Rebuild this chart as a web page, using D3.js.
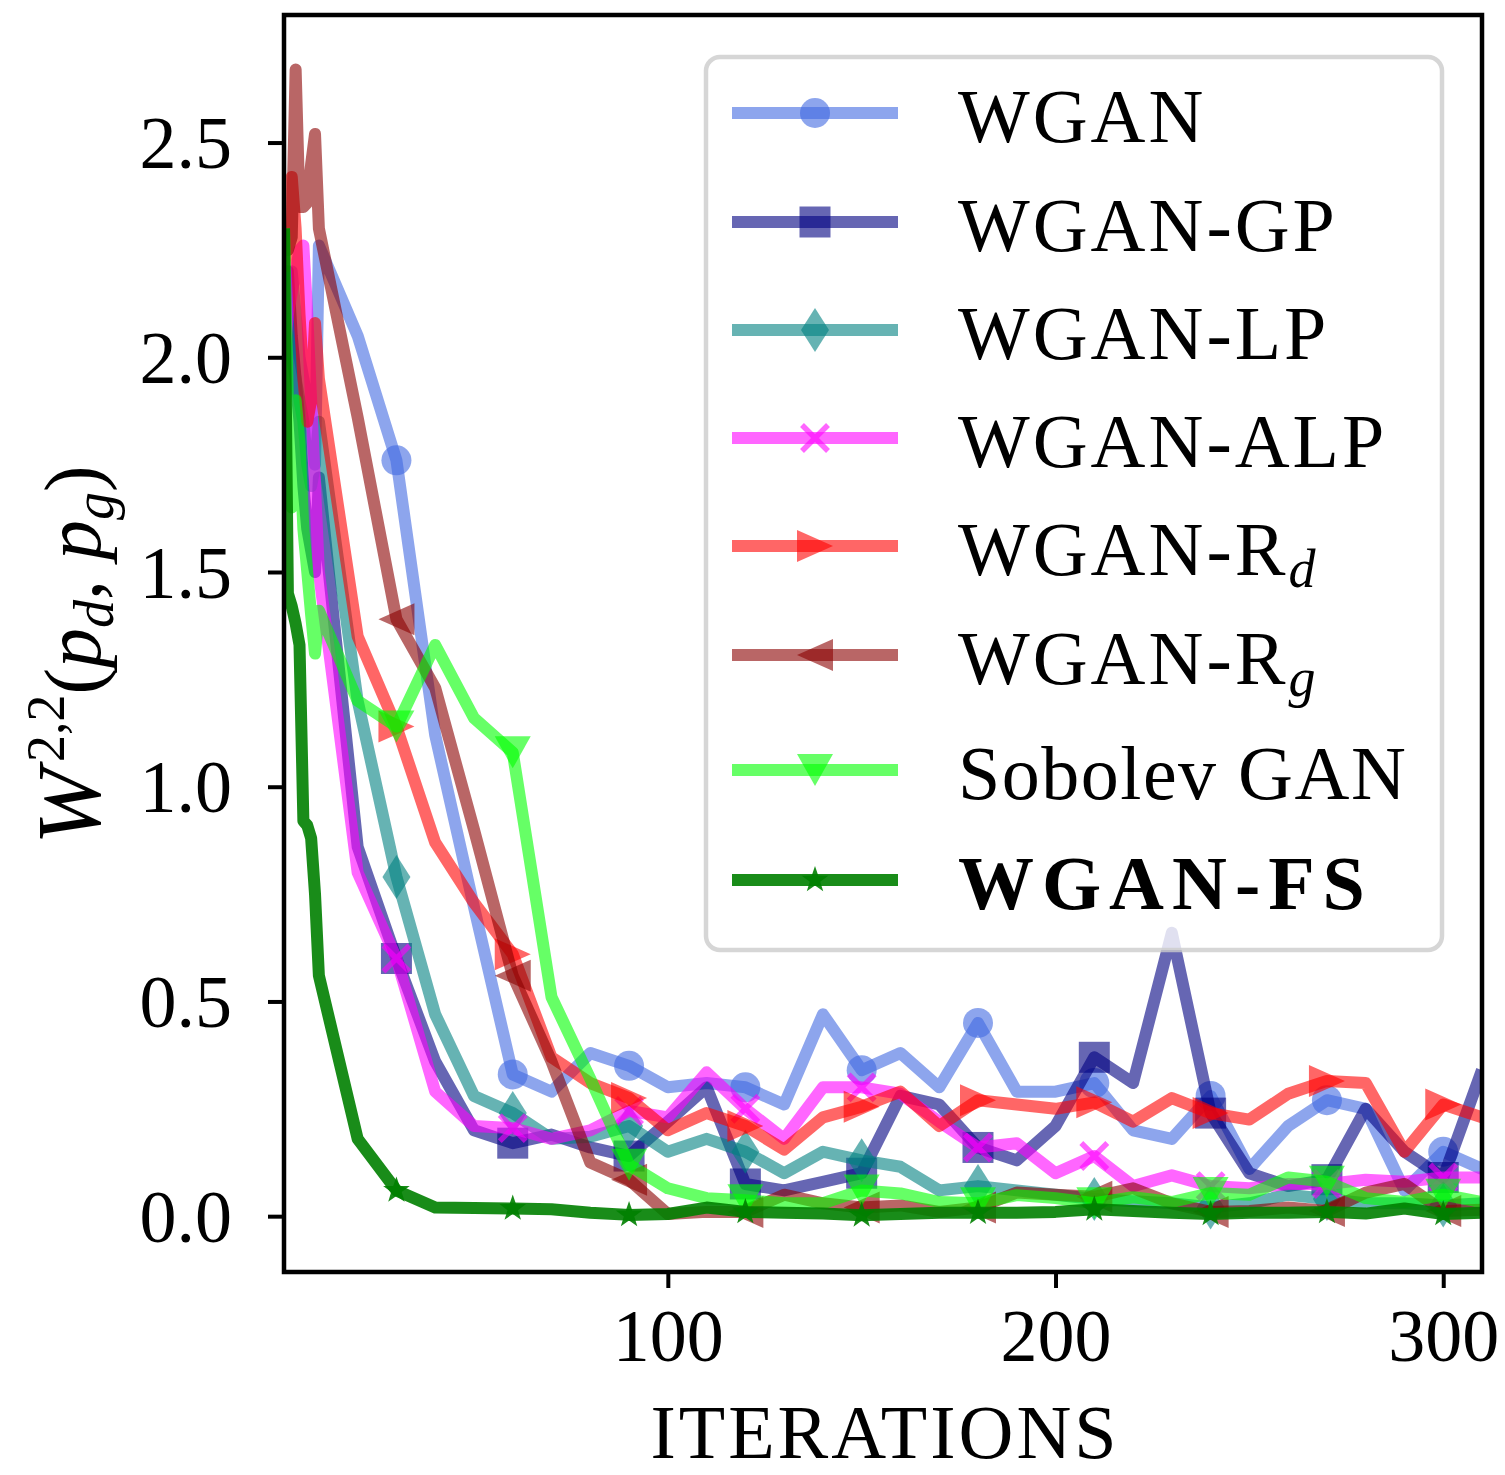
<!DOCTYPE html>
<html>
<head>
<meta charset="utf-8">
<script src="https://cdn.jsdelivr.net/npm/d3@7"></script>
<style>
  body { margin: 0; background: #fff; }
  svg text { font-family: "Liberation Serif", "DejaVu Serif", serif; }
</style>
</head>
<body>
<svg id="chart" width="1505" height="1475" viewBox="0 0 1505 1475"></svg>
<script>
// iterations at which every run was evaluated
const iterations = [1, 2, 3, 4, 5, 6, 7, 8, 9, 10,
  20, 30, 40, 50, 60, 70, 80, 90, 100, 110, 120, 130, 140, 150, 160, 170, 180, 190, 200,
  210, 220, 230, 240, 250, 260, 270, 280, 290, 300, 310];
// iterations that carry a marker
const markerIters = [30, 60, 90, 120, 150, 180, 210, 240, 270, 300];

const wgan = [2.10, 2.15, 2.20, 2.10, 2.00, 1.95, 1.90, 1.85, 1.75, 2.26,
  2.05, 1.76, 1.12, 0.72, 0.33, 0.29, 0.38, 0.35, 0.30, 0.31, 0.30, 0.26, 0.47, 0.34, 0.38, 0.30, 0.45, 0.29, 0.29,
  0.31, 0.20, 0.18, 0.28, 0.11, 0.21, 0.27, 0.25, 0.06, 0.15, 0.11];
const wganGP = [2.15, 2.20, 2.05, 1.95, 1.85, 1.70, 1.60, 1.55, 1.50, 1.72,
  0.86, 0.60, 0.36, 0.20, 0.17, 0.19, 0.16, 0.14, 0.22, 0.30, 0.075, 0.06, 0.08, 0.10, 0.28, 0.26, 0.16, 0.13, 0.21,
  0.37, 0.31, 0.66, 0.24, 0.10, 0.07, 0.085, 0.25, 0.15, 0.09, 0.34];
const wganLP = [2.10, 2.05, 2.00, 1.95, 1.90, 1.85, 1.75, 1.70, 1.75, 1.85,
  1.20, 0.79, 0.47, 0.28, 0.24, 0.18, 0.185, 0.21, 0.15, 0.18, 0.15, 0.10, 0.15, 0.13, 0.115, 0.06, 0.07, 0.06, 0.05,
  0.04, 0.035, 0.03, 0.02, 0.03, 0.05, 0.04, 0.03, 0.03, 0.025, 0.03];
const wganALP = [2.00, 2.10, 2.15, 2.20, 2.25, 2.26, 2.10, 1.90, 1.70, 1.50,
  0.80, 0.60, 0.29, 0.21, 0.205, 0.18, 0.20, 0.245, 0.23, 0.335, 0.25, 0.18, 0.30, 0.30, 0.285, 0.22, 0.16, 0.17, 0.10,
  0.14, 0.07, 0.095, 0.07, 0.065, 0.075, 0.075, 0.085, 0.08, 0.09, 0.09];
const wganRd = [2.20, 2.30, 2.42, 2.30, 2.10, 1.95, 1.85, 1.90, 2.08, 1.95,
  1.35, 1.14, 0.87, 0.73, 0.61, 0.37, 0.31, 0.275, 0.20, 0.24, 0.21, 0.155, 0.23, 0.255, 0.29, 0.21, 0.27, 0.26, 0.25,
  0.265, 0.22, 0.275, 0.24, 0.225, 0.285, 0.315, 0.31, 0.15, 0.26, 0.23];
const wganRg = [2.25, 2.25, 2.28, 2.67, 2.35, 2.35, 2.36, 2.45, 2.52, 2.30,
  1.86, 1.39, 1.23, 0.90, 0.56, 0.36, 0.125, 0.085, 0.005, 0.01, 0.01, 0.05, 0.03, 0.02, 0.025, 0.01, 0.02, 0.055, 0.05,
  0.045, 0.065, 0.03, 0.01, 0.012, 0.02, 0.012, 0.055, 0.075, 0.012, 0.015];
const sobolev = [2.30, 1.90, 1.65, 1.90, 1.80, 1.60, 1.50, 1.40, 1.31, 1.41,
  1.20, 1.14, 1.33, 1.16, 1.08, 0.51, 0.32, 0.12, 0.065, 0.042, 0.037, 0.03, 0.03, 0.06, 0.053, 0.033, 0.03, 0.049, 0.042,
  0.03, 0.044, 0.033, 0.054, 0.05, 0.09, 0.08, 0.042, 0.033, 0.05, 0.033];
const wganFS = [2.30, 1.45, 1.42, 1.38, 1.33, 0.92, 0.91, 0.88, 0.75, 0.56,
  0.18, 0.06, 0.02, 0.019, 0.018, 0.016, 0.008, 0.003, 0.005, 0.02, 0.01, 0.008, 0.006, 0.002, 0.005, 0.008, 0.008, 0.008, 0.01,
  0.016, 0.012, 0.008, 0.005, 0.008, 0.008, 0.01, 0.006, 0.018, 0.005, 0.008];

const seriesNames = ["WGAN", "WGAN-GP", "WGAN-LP", "WGAN-ALP", "WGAN-Rd", "WGAN-Rg", "Sobolev GAN", "WGAN-FS"];
const seriesValues = [wgan, wganGP, wganLP, wganALP, wganRd, wganRg, sobolev, wganFS];
const seriesColors = ["#4169e1", "#000080", "#008080", "#ff00ff", "#ff0000", "#8b0000", "#00ff00", "#008000"];
const seriesAlpha = [0.6, 0.6, 0.6, 0.6, 0.6, 0.6, 0.6, 0.9];
const seriesMarkers = ["o", "s", "d", "x", ">", "<", "v", "*"];

const yTicks = [0, 0.5, 1.0, 1.5, 2.0, 2.5];
const xTicks = [100, 200, 300];

const svg = d3.select("#chart");
const plotLeft = 284, plotRight = 1482, plotTop = 15, plotBottom = 1272;

const x = d3.scaleLinear().domain([1, 310]).range([plotLeft, plotRight]);
const y = d3.scaleLinear().domain([-0.13, 2.797]).range([plotBottom, plotTop]);

svg.append("defs").append("clipPath").attr("id", "plotClip")
  .append("rect").attr("x", plotLeft).attr("y", plotTop)
  .attr("width", plotRight - plotLeft).attr("height", plotBottom - plotTop);

// marker shapes, centred on 0,0
function markerPath(type) {
  switch (type) {
    case "o": return "M15,0A15,15 0 1,1 -15,0A15,15 0 1,1 15,0Z";
    case "s": return "M-15.5,-15.5H15.5V15.5H-15.5Z";
    case "d": return "M0,-22L14,0L0,22L-14,0Z";
    case "x": return "M-13,-13L13,13M-13,13L13,-13";
    case ">": return "M18,0L-18,-16L-18,16Z";
    case "<": return "M-18,0L18,-16L18,16Z";
    case "v": return "M0,16L-18,-16L18,-16Z";
    case "*": {
      let p = [];
      for (let k = 0; k < 10; k++) {
        const r = k % 2 === 0 ? 14 : 5.5;
        const a = -Math.PI / 2 + k * Math.PI / 5;
        p.push([r * Math.cos(a), r * Math.sin(a)]);
      }
      return "M" + p.map(d => d[0].toFixed(2) + "," + d[1].toFixed(2)).join("L") + "Z";
    }
  }
}

function drawMarker(g, type, cx, cy, color, alpha) {
  const m = g.append("path")
    .attr("d", markerPath(type))
    .attr("transform", `translate(${cx},${cy})`);
  if (type === "x") {
    m.attr("fill", "none").attr("stroke", color).attr("stroke-width", 5.5).attr("stroke-opacity", alpha);
  } else {
    m.attr("fill", color).attr("fill-opacity", alpha);
  }
}

const plot = svg.append("g").attr("clip-path", "url(#plotClip)");
const line = d3.line().x(d => x(d[0])).y(d => y(d[1]));

seriesValues.forEach((vals, i) => {
  const pts = iterations.map((it, j) => [it, vals[j]]);
  const g = plot.append("g");
  g.append("path")
    .attr("d", line(pts))
    .attr("fill", "none")
    .attr("stroke", seriesColors[i])
    .attr("stroke-opacity", seriesAlpha[i])
    .attr("stroke-width", 12)
    .attr("stroke-linejoin", "round");
  pts.filter(p => markerIters.includes(p[0])).forEach(p => {
    drawMarker(g, seriesMarkers[i], x(p[0]), y(p[1]), seriesColors[i], seriesAlpha[i]);
  });
});

// axes
const yAxis = svg.append("g").attr("transform", `translate(${plotLeft},0)`)
  .call(d3.axisLeft(y).tickValues(yTicks).tickFormat(d3.format(".1f")).tickSize(16).tickPadding(36));
const xAxis = svg.append("g").attr("transform", `translate(0,${plotBottom})`)
  .call(d3.axisBottom(x).tickValues(xTicks).tickFormat(d3.format("d")).tickSize(16).tickPadding(20));
[yAxis, xAxis].forEach(a => {
  a.select(".domain").remove();
  a.selectAll(".tick line").attr("stroke", "#000").attr("stroke-width", 4);
  a.selectAll(".tick text").attr("fill", "#000").style("font-size", "74px");
});
yAxis.selectAll(".tick text").attr("dy", "0.34em");
xAxis.selectAll(".tick text").attr("dy", "0.72em");

// frame
svg.append("rect")
  .attr("x", plotLeft).attr("y", plotTop)
  .attr("width", plotRight - plotLeft).attr("height", plotBottom - plotTop)
  .attr("fill", "none").attr("stroke", "#000").attr("stroke-width", 4.5);

// axis titles
svg.append("text")
  .attr("x", (plotLeft + plotRight) / 2 + 2).attr("y", 1458)
  .attr("text-anchor", "middle")
  .style("font-size", "76px")
  .style("letter-spacing", "3px")
  .text("ITERATIONS");

const yl = svg.append("text")
  .attr("transform", "translate(100,655) rotate(-90)")
  .attr("text-anchor", "middle")
  .style("font-size", "80px");
yl.append("tspan").style("font-style", "italic").style("font-size", "92px").text("W");
yl.append("tspan").attr("dx", 6).attr("dy", -36).style("font-size", "54px").text("2,2");
yl.append("tspan").attr("dy", 36).text("(");
yl.append("tspan").style("font-style", "italic").text("p");
yl.append("tspan").attr("dy", 13).style("font-style", "italic").style("font-size", "56px").text("d");
yl.append("tspan").attr("dy", -13).text(", ");
yl.append("tspan").style("font-style", "italic").text("p");
yl.append("tspan").attr("dy", 13).style("font-style", "italic").style("font-size", "56px").text("g");
yl.append("tspan").attr("dy", -13).text(")");

// legend
const lg = svg.append("g");
lg.append("rect")
  .attr("x", 706).attr("y", 57).attr("width", 736).attr("height", 893)
  .attr("rx", 14).attr("ry", 14)
  .attr("fill", "#fff").attr("fill-opacity", 0.8)
  .attr("stroke", "#cccccc").attr("stroke-opacity", 0.8).attr("stroke-width", 4.5);

const rowY = [113, 222, 330, 438, 546, 655, 770, 880];
seriesNames.forEach((name, i) => {
  const cy = rowY[i];
  lg.append("line")
    .attr("x1", 732).attr("x2", 898).attr("y1", cy).attr("y2", cy)
    .attr("stroke", seriesColors[i]).attr("stroke-opacity", seriesAlpha[i])
    .attr("stroke-width", 12);
  drawMarker(lg, seriesMarkers[i], 815, cy, seriesColors[i], seriesAlpha[i]);
  const t = lg.append("text")
    .attr("x", 958).attr("y", cy + 29)
    .style("font-size", "76px")
    .style("letter-spacing", "3px");
  const sub = name.match(/^WGAN-R([dg])$/);
  if (sub) {
    t.append("tspan").text("WGAN-R");
    t.append("tspan").attr("dy", 12).style("font-style", "italic").style("font-size", "54px").text(sub[1]);
  } else {
    t.text(name);
    if (name === "WGAN-FS") t.style("font-weight", "bold").style("letter-spacing", "8px");
    if (name === "Sobolev GAN") t.style("letter-spacing", "1.5px");
  }
});
</script>
</body>
</html>
